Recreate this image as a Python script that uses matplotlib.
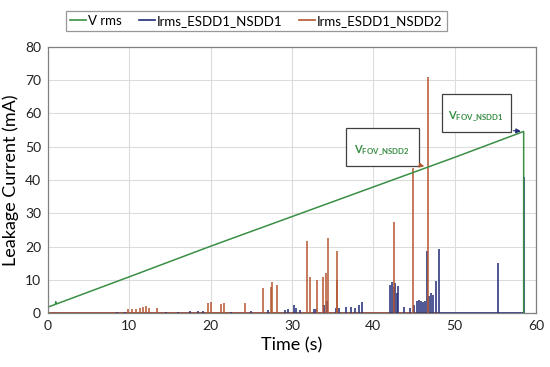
import matplotlib
matplotlib.use("Agg")
import matplotlib.pyplot as plt
from matplotlib.patches import Rectangle

plt.rcParams["font.family"] = ["Lato", "DejaVu Sans"]
plt.rcParams["mathtext.fontset"] = "custom"
plt.rcParams["mathtext.rm"] = "Lato"

# V rms (scaled onto the current axis)
vrms_t = [0, 0.9, 0.95, 1.0, 10, 20, 30, 40, 50, 58.5, 58.5]
vrms_v = [1.8, 2.6, 3.4, 2.7, 10.9, 20.1, 29.0, 37.9, 46.8, 54.6, 0]

# Irms_ESDD1_NSDD1 spikes (blue)
nsdd1_t = [8.5, 9.5, 12.0, 14.5, 16.0, 17.5, 18.5, 19.0, 22.5, 25.0, 27.0, 29.2, 29.5,
           30.2, 30.5, 31.0, 32.7, 33.0, 34.0, 34.3, 35.4, 35.8, 36.6, 37.3, 37.8,
           38.2, 38.6, 42.1, 42.3, 42.5, 42.7, 42.9, 43.1, 43.8, 44.5, 45.0, 45.4,
           45.6, 45.9, 46.1, 46.4, 46.6, 46.9, 47.1, 47.4, 47.7, 48.1, 55.4, 58.5]
nsdd1_v = [0.3, 0.3, 0.3, 0.3, 0.4, 0.5, 0.6, 0.7, 0.4, 0.6, 0.8, 1.0, 1.2,
           2.5, 1.5, 1.0, 1.2, 1.1, 2.5, 3.5, 1.5, 1.4, 1.7, 1.8, 1.6,
           2.5, 3.4, 8.3, 9.4, 7.9, 9.0, 6.0, 8.2, 1.8, 1.5, 2.3, 3.6,
           3.8, 3.5, 3.4, 3.6, 18.7, 5.2, 6.0, 5.5, 9.5, 19.4, 14.9, 41.0]

# Irms_ESDD1_NSDD2 spikes (red/brown)
nsdd2_t = [9.8, 10.3, 10.8, 11.3, 11.7, 12.0, 12.4, 13.4, 19.7, 20.0, 21.3, 21.6,
           24.2, 26.4, 27.4, 27.6, 28.2, 31.8, 32.2, 33.1, 33.8, 34.2, 34.4,
           35.5, 35.6, 42.6, 44.9, 46.7]
nsdd2_v = [1.2, 1.3, 1.2, 1.4, 1.8, 2.1, 1.6, 1.5, 2.9, 3.2, 2.8, 3.0,
           2.9, 7.4, 7.9, 9.2, 8.4, 21.6, 10.7, 9.9, 10.7, 12.1, 22.7,
           10.0, 18.7, 27.5, 43.5, 71.0]

GREEN = "#3a8f45"
BLUE = "#1f2a78"
BROWN = "#b4552f"

fig = plt.figure(figsize=(5.5, 3.67), dpi=100)
ax = fig.add_axes([0.0873, 0.147, 0.887, 0.725])

# baselines
ax.plot([0, 58.5], [0, 0], color=BLUE, lw=1.2)
ax.plot([0, 48.0], [0, 0], color=BROWN, lw=1.2)
ax.vlines(nsdd1_t, 0, nsdd1_v, color=BLUE, lw=1.1)
ax.vlines(nsdd2_t, 0, nsdd2_v, color=BROWN, lw=1.1)
ax.plot(vrms_t, vrms_v, color=GREEN, lw=1.1)

# legend handles
h_v, = ax.plot([], [], color=GREEN, lw=1.2, label="V rms")
h_1, = ax.plot([], [], color=BLUE, lw=1.2, label="Irms_ESDD1_NSDD1")
h_2, = ax.plot([], [], color=BROWN, lw=1.2, label="Irms_ESDD1_NSDD2")
leg = fig.legend(handles=[h_v, h_1, h_2], loc="center", bbox_to_anchor=(0.466, 0.944),
                 ncol=3, fontsize=9.5, frameon=True, fancybox=False, handlelength=1.2,
                 handletextpad=0.15, columnspacing=1.3, borderpad=0.3,
                 borderaxespad=0)
leg.get_frame().set_edgecolor("#7f7f7f")
leg.get_frame().set_linewidth(0.9)

ax.set_xlim(0, 60)
ax.set_ylim(0, 80)
ax.set_xticks(range(0, 61, 10))
ax.set_yticks(range(0, 81, 10))
ax.tick_params(length=0, labelsize=10, colors="#222222", pad=5)
ax.grid(True, color="#dcdcdc", lw=0.8)
ax.set_axisbelow(True)
for s in ax.spines.values():
    s.set_color("#808080")
    s.set_linewidth(0.9)
ax.set_xlabel("Time (s)", fontsize=13, labelpad=4)
ax.set_ylabel("Leakage Current (mA)", fontsize=13, labelpad=4)

# annotation boxes
ax.add_patch(Rectangle((36.65, 44.2), 8.95, 11.4, facecolor="white",
                       edgecolor="#404040", lw=0.9, zorder=5))
ax.text(41.1, 49.0, r"V$_{\mathregular{FOV\_NSDD2}}$", color=GREEN, fontsize=8,
        fontweight="bold", ha="center", va="center", zorder=6)
ax.annotate("", xy=(46.6, 43.9), xytext=(45.6, 44.5),
            arrowprops=dict(arrowstyle="-|>", color=BROWN, lw=0.8, mutation_scale=7), zorder=6)

ax.add_patch(Rectangle((48.4, 54.3), 8.5, 11.5, facecolor="white",
                       edgecolor="#404040", lw=0.9, zorder=5))
ax.text(52.6, 59.2, r"V$_{\mathregular{FOV\_NSDD1}}$", color=GREEN, fontsize=8,
        fontweight="bold", ha="center", va="center", zorder=6)
ax.annotate("", xy=(58.5, 54.6), xytext=(56.9, 54.9),
            arrowprops=dict(arrowstyle="-|>", color=BLUE, lw=0.8, mutation_scale=7), zorder=6)

fig.savefig("out.png", dpi=100)
